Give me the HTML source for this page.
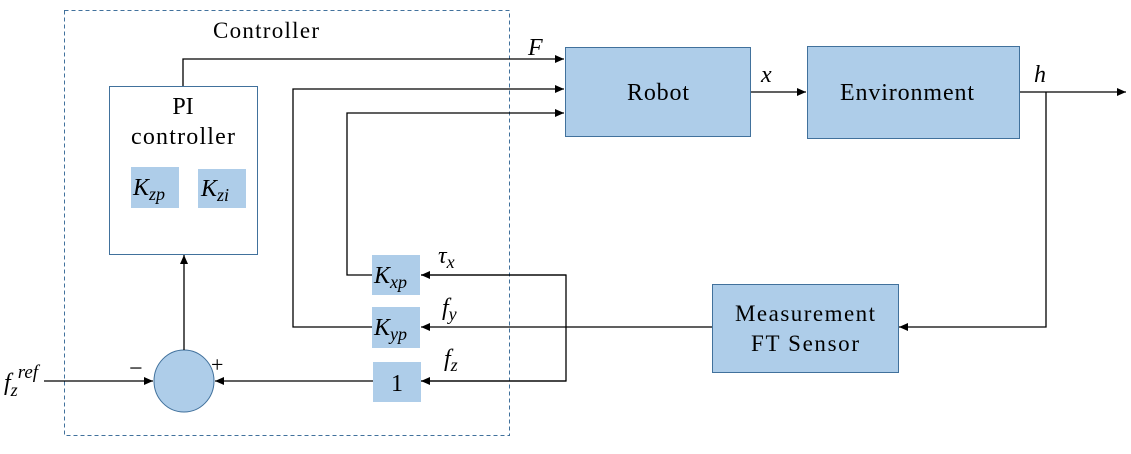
<!DOCTYPE html>
<html><head><meta charset="utf-8"><style>
html,body{margin:0;padding:0;background:#fff;}
svg{display:block;font-family:"Liberation Serif",serif;}
</style></head><body>
<svg width="1131" height="454" viewBox="0 0 1131 454" xmlns="http://www.w3.org/2000/svg">
<defs>
<marker id="a" markerWidth="10" markerHeight="8" refX="9" refY="4" orient="auto" markerUnits="userSpaceOnUse">
<path d="M0,0 L9,4 L0,8 z" fill="#000"/></marker>
</defs>
<rect x="64.5" y="10.5" width="445" height="425" fill="none" stroke="#41719c" stroke-dasharray="4,3"/>
<text x="266" y="38" font-size="23" text-anchor="middle" textLength="106">Controller</text>
<rect x="109.5" y="86.5" width="148" height="168" fill="#fff" stroke="#41719c"/>
<text x="183" y="114" font-size="24" text-anchor="middle">PI</text>
<text x="183" y="144" font-size="24" text-anchor="middle" textLength="104">controller</text>
<rect x="131" y="167" width="48" height="41" fill="#aecde9"/>
<text x="133" y="195" font-size="24" font-style="italic">K<tspan font-size="18" dy="5">zp</tspan></text>
<rect x="198" y="169" width="48" height="39" fill="#aecde9"/>
<text x="201" y="196" font-size="24" font-style="italic">K<tspan font-size="18" dy="5">zi</tspan></text>

<rect x="565.5" y="47.5" width="185" height="89" fill="#aecde9" stroke="#41719c"/>
<text x="658" y="100" font-size="24" text-anchor="middle" textLength="62">Robot</text>
<rect x="807.5" y="46.5" width="212" height="92" fill="#aecde9" stroke="#41719c"/>
<text x="907" y="100" font-size="24" text-anchor="middle" textLength="134">Environment</text>
<rect x="712.5" y="284.5" width="186" height="88" fill="#aecde9" stroke="#41719c"/>
<text x="805" y="321" font-size="23" text-anchor="middle" textLength="140">Measurement</text>
<text x="805" y="351" font-size="23" text-anchor="middle" textLength="108">FT Sensor</text>

<rect x="372" y="255" width="48" height="40" fill="#aecde9"/>
<text x="374" y="283" font-size="24" font-style="italic">K<tspan font-size="18" dy="5">xp</tspan></text>
<rect x="372" y="307" width="48" height="41" fill="#aecde9"/>
<text x="374" y="335" font-size="24" font-style="italic">K<tspan font-size="18" dy="5">yp</tspan></text>
<rect x="373" y="362" width="48" height="40" fill="#aecde9"/>
<text x="397" y="391" font-size="24" text-anchor="middle">1</text>

<ellipse cx="184" cy="381" rx="30" ry="31" fill="#aecde9" stroke="#41719c"/>
<text x="129" y="376" font-size="24">−</text>
<text x="211" y="372" font-size="22">+</text>

<g stroke="#000" stroke-width="1.3" fill="none">
<polyline points="183,86 183,59 564,59" marker-end="url(#a)"/>
<polyline points="372,327 293,327 293,89 564,89" marker-end="url(#a)"/>
<polyline points="372,275 347,275 347,113 564,113" marker-end="url(#a)"/>
<line x1="751" y1="92" x2="806" y2="92" marker-end="url(#a)"/>
<line x1="1020" y1="92" x2="1126" y2="92" marker-end="url(#a)"/>
<polyline points="1046,92 1046,327 899,327" marker-end="url(#a)"/>
<line x1="712" y1="327" x2="421" y2="327" marker-end="url(#a)"/>
<polyline points="421,275 566,275 566,381 421,381"/>
<line x1="566" y1="275" x2="421" y2="275" marker-end="url(#a)"/>
<line x1="566" y1="381" x2="421" y2="381" marker-end="url(#a)"/>
<line x1="373" y1="381" x2="215" y2="381" marker-end="url(#a)"/>
<line x1="44" y1="381" x2="153" y2="381" marker-end="url(#a)"/>
<line x1="184" y1="350" x2="184" y2="255" marker-end="url(#a)"/>
</g>

<g font-size="24" font-style="italic">
<text x="528" y="55">F</text>
<text x="761" y="82">x</text>
<text x="1034" y="82">h</text>
<text x="438" y="263">τ<tspan font-size="18" dy="5">x</tspan></text>
<text x="442" y="315">f<tspan font-size="18" dy="5">y</tspan></text>
<text x="444" y="366">f<tspan font-size="18" dy="5">z</tspan></text>
<text x="4" y="390">f<tspan font-size="18" dy="6">z</tspan><tspan font-size="19" dy="-18">ref</tspan></text>
</g>
</svg>
</body></html>
